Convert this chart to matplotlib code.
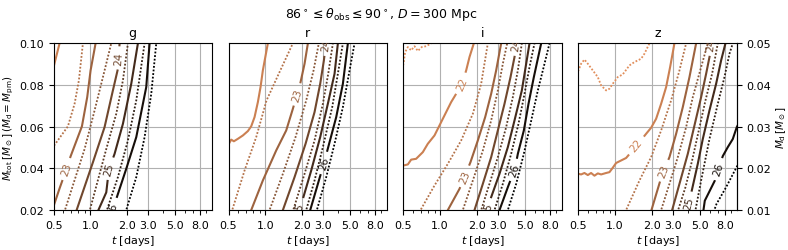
import numpy as np
import matplotlib
matplotlib.use('Agg')
import matplotlib.pyplot as plt
from matplotlib.contour import ContourSet
from matplotlib.ticker import NullFormatter

bands = ['g', 'r', 'i', 'z']
levels = [21.5, 22, 22.5, 23, 23.5, 24, 24.5, 25, 25.5, 26, 26.5]
xticks = [0.5, 1, 2, 3, 5, 8]
xticklabels = ['0.5', '1.0', '2.0', '3.0', '5.0', '8.0']
mtot_ticks = [0.02, 0.04, 0.06, 0.08, 0.10]
md_ticks = [0.01, 0.02, 0.03, 0.04, 0.05]

# magnitude contours: one (t [days], M_tot) polyline per level
g_lines = [
    [],
    [(0.48, 0.082), (0.50, 0.0886), (0.56, 0.100), (0.57, 0.102)],
    [(0.47, 0.046), (0.50, 0.0506), (0.656, 0.0602), (0.744, 0.0710), (0.807, 0.0822), (0.871, 0.100), (0.88, 0.102)],
    [(0.47, 0.017), (0.496, 0.0213), (0.56, 0.0304), (0.635, 0.0397), (0.69, 0.0458), (0.855, 0.0602), (0.945, 0.0742), (1.007, 0.087), (1.107, 0.100), (1.12, 0.102)],
    [(0.60, 0.017), (0.616, 0.0195), (0.899, 0.0493), (1.086, 0.0678), (1.272, 0.0838), (1.489, 0.100), (1.51, 0.102)],
    [(0.75, 0.017), (0.768, 0.0195), (1.052, 0.0429), (1.312, 0.0598), (1.536, 0.0774), (1.689, 0.0878), (1.743, 0.100), (1.75, 0.102)],
    [(0.97, 0.017), (0.988, 0.0195), (1.355, 0.0493), (1.637, 0.0662), (1.857, 0.0822), (2.041, 0.100), (2.06, 0.102)],
    [(1.13, 0.017), (1.157, 0.0195), (1.355, 0.0285), (1.424, 0.0397), (1.586, 0.047), (1.857, 0.0614), (2.174, 0.0806), (2.466, 0.100), (2.49, 0.102)],
    [(1.34, 0.017), (1.363, 0.0195), (1.689, 0.0358), (2.041, 0.0534), (2.39, 0.0726), (2.798, 0.100), (2.82, 0.102)],
    [(1.40, 0.012), (1.443, 0.0158), (1.527, 0.0213), (1.637, 0.0254), (1.977, 0.0398), (2.39, 0.055), (2.887, 0.079), (3.075, 0.100), (3.09, 0.102)],
    [(1.94, 0.017), (1.965, 0.0195), (2.39, 0.0358), (2.798, 0.055), (3.174, 0.0758), (3.489, 0.100), (3.51, 0.102)],
]
r_lines = [
    [],
    [(0.48, 0.049), (0.50, 0.0515), (0.526, 0.0538), (0.553, 0.053), (0.597, 0.0542), (0.656, 0.0558), (0.721, 0.0579), (0.768, 0.0602), (0.818, 0.0646), (0.871, 0.0718), (0.916, 0.079), (0.957, 0.087), (1.052, 0.100), (1.06, 0.102)],
    [(0.52, 0.017), (0.536, 0.020), (0.677, 0.039), (0.844, 0.055), (1.026, 0.0726), (1.312, 0.0862), (1.689, 0.100), (1.70, 0.102)],
    [(0.75, 0.017), (0.768, 0.020), (0.957, 0.0342), (1.232, 0.0486), (1.489, 0.0582), (1.689, 0.0686), (1.822, 0.0755), (1.94, 0.0806), (2.107, 0.0902), (2.244, 0.100), (2.26, 0.102)],
    [(1.06, 0.017), (1.086, 0.020), (1.398, 0.0374), (1.776, 0.055), (2.174, 0.0726), (2.498, 0.087), (2.76, 0.100), (2.78, 0.102)],
    [(1.37, 0.017), (1.398, 0.020), (1.743, 0.0358), (2.147, 0.0518), (2.545, 0.067), (2.833, 0.0806), (3.037, 0.0918), (3.154, 0.100), (3.17, 0.102)],
    [(1.67, 0.017), (1.70, 0.020), (2.107, 0.0374), (2.545, 0.0534), (2.98, 0.071), (3.297, 0.0854), (3.601, 0.100), (3.62, 0.102)],
    [(1.776, 0.0158), (2.041, 0.0254), (2.39, 0.039), (2.833, 0.055), (3.297, 0.0718), (3.716, 0.0854), (3.958, 0.100), (3.98, 0.102)],
    [(2.13, 0.017), (2.174, 0.020), (2.545, 0.0342), (2.98, 0.0502), (3.556, 0.0694), (3.958, 0.0854), (4.351, 0.100), (4.38, 0.102)],
    [(2.30, 0.017), (2.345, 0.020), (2.762, 0.0342), (3.037, 0.0426), (3.297, 0.0502), (3.835, 0.0646), (4.351, 0.0806), (4.782, 0.100), (4.81, 0.102)],
    [(2.61, 0.017), (2.66, 0.020), (3.174, 0.0358), (3.716, 0.0518), (4.351, 0.0694), (4.936, 0.087), (5.426, 0.100), (5.46, 0.102)],
]
i_lines = [
    [(0.48, 0.086), (0.50, 0.0902), (0.516, 0.0958), (0.543, 0.0982), (0.578, 0.0966), (0.616, 0.0986), (0.656, 0.0963), (0.706, 0.0982), (0.768, 0.0986), (0.844, 0.100), (0.86, 0.102)],
    [(0.48, 0.0414), (0.50, 0.0414), (0.543, 0.0419), (0.578, 0.0442), (0.635, 0.0446), (0.721, 0.0478), (0.792, 0.0518), (0.899, 0.0558), (0.988, 0.0606), (1.086, 0.0654), (1.232, 0.0718), (1.355, 0.0758), (1.508, 0.0806), (1.637, 0.087), (1.743, 0.0934), (1.892, 0.100), (1.91, 0.102)],
    [(0.67, 0.017), (0.690, 0.020), (0.899, 0.0318), (1.157, 0.0422), (1.489, 0.0534), (1.857, 0.0662), (2.174, 0.0806), (2.466, 0.100), (2.48, 0.102)],
    [(1.13, 0.017), (1.157, 0.020), (1.443, 0.0302), (1.586, 0.0362), (1.776, 0.043), (2.041, 0.0534), (2.345, 0.0646), (2.627, 0.0758), (2.887, 0.087), (3.174, 0.100), (3.19, 0.102)],
    [(1.50, 0.017), (1.536, 0.020), (1.857, 0.0342), (2.244, 0.0486), (2.627, 0.063), (2.98, 0.0774), (3.276, 0.0902), (3.556, 0.100), (3.58, 0.102)],
    [(1.87, 0.017), (1.916, 0.020), (2.244, 0.0326), (2.627, 0.0454), (2.98, 0.0582), (3.381, 0.071), (3.788, 0.0838), (4.085, 0.0934), (4.243, 0.100), (4.26, 0.102)],
    [(2.12, 0.017), (2.174, 0.020), (2.545, 0.0326), (2.98, 0.0454), (3.489, 0.0598), (3.958, 0.0742), (4.351, 0.087), (4.693, 0.100), (4.72, 0.102)],
    [(2.287, 0.0158), (2.627, 0.0262), (3.075, 0.0374), (3.601, 0.0502), (4.085, 0.063), (4.693, 0.0774), (5.094, 0.0902), (5.426, 0.100), (5.46, 0.102)],
    [(2.74, 0.017), (2.798, 0.020), (3.276, 0.0326), (3.835, 0.047), (4.406, 0.0614), (4.936, 0.0758), (5.426, 0.0886), (5.964, 0.100), (6.0, 0.102)],
    [(3.0, 0.017), (3.075, 0.020), (3.601, 0.031), (3.958, 0.0374), (4.085, 0.039), (4.351, 0.047), (4.874, 0.0582), (5.324, 0.071), (5.89, 0.0838), (6.766, 0.100), (6.85, 0.102)],
    [(3.53, 0.017), (3.601, 0.020), (4.216, 0.0326), (4.874, 0.047), (5.53, 0.0614), (6.352, 0.0774), (7.207, 0.0902), (7.922, 0.100), (8.0, 0.102)],
]
z_lines = [
    [(0.48, 0.085), (0.50, 0.087), (0.526, 0.0902), (0.56, 0.0922), (0.597, 0.0902), (0.656, 0.087), (0.721, 0.0838), (0.768, 0.0798), (0.844, 0.0774), (0.899, 0.0782), (0.957, 0.0806), (1.052, 0.0838), (1.157, 0.0851), (1.312, 0.0894), (1.443, 0.091), (1.637, 0.0926), (1.743, 0.095), (1.916, 0.100), (1.93, 0.102)],
    [(0.48, 0.0374), (0.50, 0.0374), (0.526, 0.0371), (0.56, 0.0378), (0.597, 0.0368), (0.635, 0.0378), (0.677, 0.0365), (0.721, 0.0376), (0.768, 0.0371), (0.844, 0.0378), (0.899, 0.0382), (0.957, 0.0403), (1.02, 0.0426), (1.121, 0.0438), (1.232, 0.045), (1.489, 0.051), (1.799, 0.0566), (1.978, 0.0595), (2.174, 0.0638), (2.39, 0.071), (2.627, 0.079), (2.833, 0.0886), (3.075, 0.100), (3.09, 0.102)],
    [(1.20, 0.017), (1.232, 0.020), (1.586, 0.0342), (1.978, 0.0454), (2.39, 0.0582), (2.887, 0.0726), (3.381, 0.087), (3.835, 0.100), (3.86, 0.102)],
    [(1.95, 0.017), (1.99, 0.020), (2.345, 0.0339), (2.498, 0.039), (2.798, 0.0454), (3.174, 0.0566), (3.601, 0.0694), (4.085, 0.0838), (4.634, 0.100), (4.66, 0.102)],
    [(2.33, 0.017), (2.39, 0.020), (2.798, 0.0326), (3.276, 0.0454), (3.835, 0.0598), (4.351, 0.0742), (5.094, 0.0886), (5.779, 0.100), (5.82, 0.102)],
    [(2.88, 0.017), (2.943, 0.020), (3.381, 0.0326), (3.958, 0.047), (4.49, 0.0606), (5.094, 0.0742), (5.6, 0.0854), (6.04, 0.095), (6.194, 0.100), (6.21, 0.102)],
    [(3.23, 0.017), (3.297, 0.020), (3.788, 0.031), (4.296, 0.0438), (4.873, 0.0582), (5.53, 0.0726), (6.272, 0.0854), (6.983, 0.100), (7.02, 0.102)],
    [(3.788, 0.0166), (4.296, 0.0301), (4.782, 0.0422), (5.257, 0.0541), (5.964, 0.0678), (6.766, 0.0806), (7.437, 0.0918), (8.073, 0.100), (8.12, 0.102)],
    [(4.50, 0.017), (4.576, 0.020), (5.094, 0.0342), (5.964, 0.0541), (6.983, 0.071), (7.922, 0.0838), (8.708, 0.095), (9.275, 0.100), (9.4, 0.102)],
    [(5.2, 0.017), (5.324, 0.020), (5.46, 0.0245), (6.597, 0.0341), (7.03, 0.0397), (7.676, 0.0459), (8.437, 0.0502), (9.275, 0.0541), (10.0, 0.0598), (10.52, 0.0622)],
    [(6.155, 0.0158), (6.81, 0.0229), (8.175, 0.031), (9.94, 0.0405), (10.52, 0.043)],
]

# where the inline labels sit (t, M_tot)
g_labels = [(0.635, 0.0397), (1.70, 0.093), (1.43, 0.040), (1.52, 0.0207)]
r_labels = [(1.82, 0.0755), (3.15, 0.0995), (1.87, 0.0207), (3.04, 0.0426)]
i_labels = [(1.51, 0.0806), (1.586, 0.0362), (4.24, 0.0995), (2.36, 0.0207), (4.05, 0.0392)]
z_labels = [(1.49, 0.051), (2.5, 0.039), (6.19, 0.0995), (4.0, 0.0235), (7.03, 0.0397)]

all_lines = [g_lines, r_lines, i_lines, z_lines]
all_labels = [g_labels, r_labels, i_labels, z_labels]

plt.rcParams['xtick.labelsize'] = 8
plt.rcParams['ytick.labelsize'] = 8

norm = plt.Normalize(19.5, 26.5)
fig, axes = plt.subplots(1, 4, figsize=(7.88, 2.51), sharey=True)
fig.subplots_adjust(left=0.068, right=0.935, bottom=0.159, top=0.8235, wspace=0.105)

for ax, band, lines, labels in zip(axes, bands, all_lines, all_labels):
    solid_lev = [l for l, seg in zip(levels, lines) if seg and l % 1 == 0]
    solid_segs = [[np.array(seg)] for l, seg in zip(levels, lines) if seg and l % 1 == 0]
    dot_lev = [l for l, seg in zip(levels, lines) if seg and l % 1 != 0]
    dot_segs = [[np.array(seg)] for l, seg in zip(levels, lines) if seg and l % 1 != 0]

    dots = ContourSet(ax, dot_lev, dot_segs,
                      colors=[matplotlib.colors.to_hex(plt.cm.copper_r(norm(l))) for l in dot_lev],
                      linewidths=1.3, linestyles=[(0, (1, 1))])
    cs = ContourSet(ax, solid_lev, solid_segs,
                    colors=[matplotlib.colors.to_hex(plt.cm.copper_r(norm(l))) for l in solid_lev],
                    linewidths=1.5, linestyles='solid')

    ax.set_xscale('log')
    ax.set_xlim(0.5, 10)
    ax.set_ylim(0.02, 0.1)
    ax.set_xticks(xticks, xticklabels)
    ax.xaxis.set_minor_formatter(NullFormatter())
    ax.set_yticks(mtot_ticks)
    ax.grid(True, color='#b0b0b0', lw=0.8)
    ax.set_title(band, fontsize=9, pad=5.5)
    ax.set_xlabel(r'$t$ [days]', fontsize=8, labelpad=2)
    if ax is not axes[0]:
        ax.tick_params(axis='y', left=False)

    ax.clabel(cs, manual=labels, inline=True, fmt='%d', fontsize=7.5)

axes[0].set_ylabel(r'$M_{\rm tot}\,[M_\odot]\,(M_{\rm d}=M_{\rm pm})$', fontsize=7.5, labelpad=2)
sec = axes[-1].secondary_yaxis('right', functions=(lambda m: m / 2, lambda m: m * 2))
sec.set_yticks(md_ticks)
sec.set_ylabel(r'$M_{\rm d}\,[M_\odot]$', fontsize=7.5, labelpad=2)

fig.suptitle(r'$86^\circ \leq \theta_{\rm obs} \leq 90^\circ$, $D = 300$ Mpc',
             x=0.484, y=0.975, fontsize=9)

plt.savefig('out.png', dpi=100)
